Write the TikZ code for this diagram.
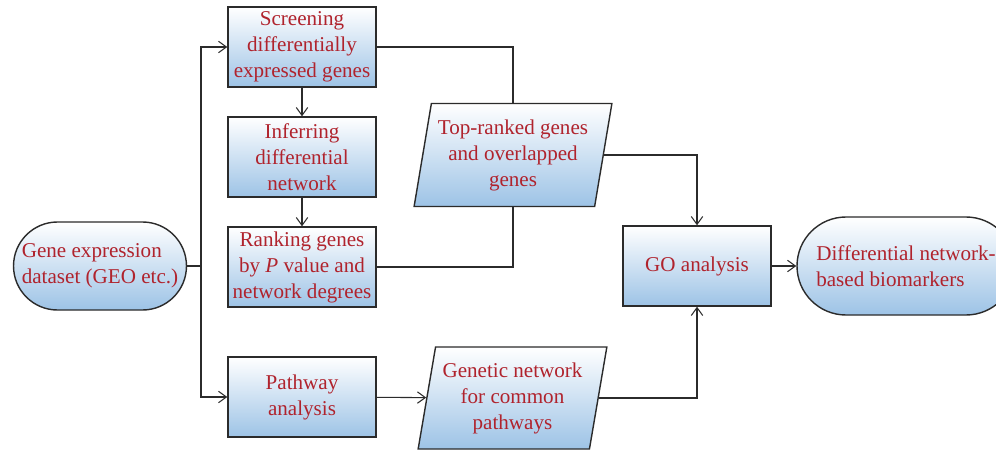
\documentclass[tikz,border=0pt]{standalone}
\usepackage{fontspec}
\setmainfont{Liberation Serif}
\usepackage{tikz}
\usetikzlibrary{arrows.meta,positioning,shapes.geometric,shapes.misc}
\definecolor{Ink}{HTML}{2B2B2B}
\definecolor{Label}{HTML}{B0232D}
\definecolor{BoxBlue}{HTML}{9DC3E6}
\tikzset{
  stepbox/.style={draw=Ink,line width=0.8pt,top color=white,bottom color=BoxBlue,minimum width=2.96cm,minimum height=1.6cm,align=center,text=Label,inner sep=2pt},
  termbox/.style={stepbox,rounded rectangle},
  databox/.style={stepbox,trapezium,trapezium stretches=true,trapezium left angle=78,trapezium right angle=102},
  arrow/.style={-{Straight Barb[length=4.5pt,width=6.5pt]},line width=0.6pt,draw=Ink},
  plain/.style={line width=0.6pt,draw=Ink}
}

\begin{document}
\begin{tikzpicture}[x=1cm,y=1cm,font=\fontsize{12}{14.8}\selectfont]
  \useasboundingbox (0,0) rectangle (19.92,9);
  \node[termbox,minimum width=3.6cm,minimum height=1.76cm,align=left] (gene) at (2.0,3.68) {Gene expression\\dataset (GEO etc.)};
  \node[stepbox] (screen) at (6.04,8.06) {Screening\\differentially\\expressed genes};
  \node[stepbox] (infer) at (6.04,5.86) {Inferring\\differential\\network};
  \node[stepbox] (rank) at (6.04,3.66) {Ranking genes\\by \textit{P} value and\\network degrees};
  \node[stepbox] (pathw) at (6.04,1.06) {Pathway\\analysis};
  \node[databox,minimum width=3.96cm,minimum height=2.06cm] (topgenes) at (10.26,5.9) {Top-ranked genes\\and overlapped\\genes};
  \node[databox,minimum width=3.78cm,minimum height=2.04cm] (gennet) at (10.25,1.04) {Genetic network\\for common\\pathways};
  \node[stepbox] (go) at (13.94,3.68) {GO analysis};
  \node[termbox,minimum width=4.36cm,minimum height=1.96cm,align=left,inner xsep=0pt] (diff) at (18.12,3.68) {Differential network-\\based biomarkers};
  \coordinate (split) at (4.02,3.68);
  % left fan-out
  \draw[plain] (gene.east)--(split);
  \draw[arrow] (split) |- (screen.west); \draw[arrow] (split) |- (pathw.west);
  \draw[arrow] (screen)--(infer); \draw[arrow] (infer)--(rank);
  % into the gene list
  \draw[plain] (screen.east) -| (topgenes); \draw[plain] (rank.east) -| (topgenes);
  \draw[arrow] (pathw)--(gennet);
  \draw[arrow] (topgenes.east) -| (go); \draw[arrow] (gennet.east) -| (go);
  \draw[arrow] (go)--(diff);
\end{tikzpicture}
\end{document}
